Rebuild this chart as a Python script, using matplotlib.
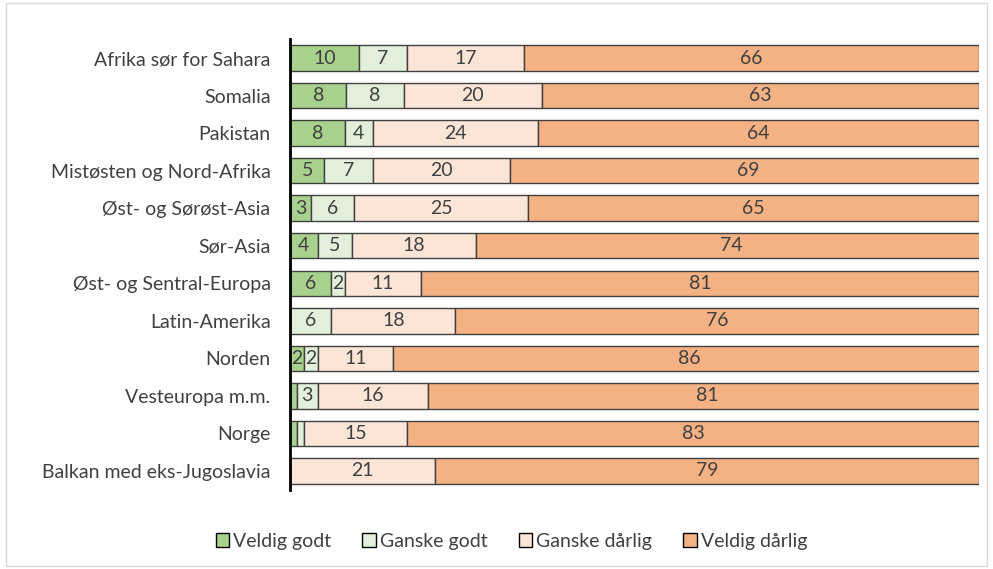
import numpy as np
import matplotlib.pyplot as plt
from matplotlib.patches import Rectangle

plt.rcParams['font.family'] = ['Lato', 'DejaVu Sans']

# Regions (top to bottom)
regions = ['Afrika sør for Sahara', 'Somalia', 'Pakistan', 'Mistøsten og Nord-Afrika',
           'Øst- og Sørøst-Asia', 'Sør-Asia', 'Øst- og Sentral-Europa', 'Latin-Amerika',
           'Norden', 'Vesteuropa m.m.', 'Norge', 'Balkan med eks-Jugoslavia']

series = ['Veldig godt', 'Ganske godt', 'Ganske dårlig', 'Veldig dårlig']
veldig_godt   = [10, 8.2, 8, 5, 3.1, 4, 6, 0, 2, 1, 1, 0]
ganske_godt   = [7, 8.3, 4, 7, 6.2, 5, 2, 6, 2, 3, 1, 0]
ganske_darlig = [17, 20.1, 24, 20, 25.3, 18, 11, 18, 11, 16, 15, 21]
veldig_darlig = [66, 63.4, 64, 69, 65.4, 74, 81, 76, 86, 81, 83, 79]

colors = ['#a9d18e', '#e2efda', '#fbe5d6', '#f4b183']
txt = '#404040'
fs = 14

fig = plt.figure(figsize=(9.93, 5.69), dpi=100)
fig.patches.append(Rectangle((0.006, 0.006), 0.988, 0.988, transform=fig.transFigure,
                             fill=False, edgecolor='#d9d9d9', linewidth=1))
ax = fig.add_axes([0.292, 0.1393, 0.694, 0.7917])

y = np.arange(len(regions))
left = np.zeros(len(regions))
for name, vals, c in zip(series, [veldig_godt, ganske_godt, ganske_darlig, veldig_darlig], colors):
    vals = np.array(vals, dtype=float)
    ax.barh(y, vals, left=left, height=0.68, color=c, edgecolor='#404040', linewidth=1, label=name)
    for yi, l, v in zip(y, left, vals):
        if v >= 2:
            ax.text(l + v / 2, yi, f'{round(v)}', ha='center', va='center', fontsize=fs, color=txt)
    left += vals

ax.set_xlim(0, 100)
ax.set_ylim(11.5, -0.5)
ax.set_yticks(y)
ax.set_yticklabels(regions, fontsize=fs, color=txt)
ax.tick_params(axis='y', length=0, pad=14)
ax.set_xticks([])
for s in ['top', 'right', 'bottom']:
    ax.spines[s].set_visible(False)
ax.spines['left'].set_linewidth(2)
ax.spines['left'].set_color('black')

leg = fig.legend(loc='center', bbox_to_anchor=(0.515, 0.049), ncol=4, frameon=False,
                 fontsize=fs, handlelength=0.7, handleheight=0.7, handletextpad=0.2,
                 columnspacing=1.6)
for t in leg.get_texts():
    t.set_color(txt)
for h in leg.legend_handles:
    h.set_edgecolor('black')

fig.savefig('out.png', dpi=100)
